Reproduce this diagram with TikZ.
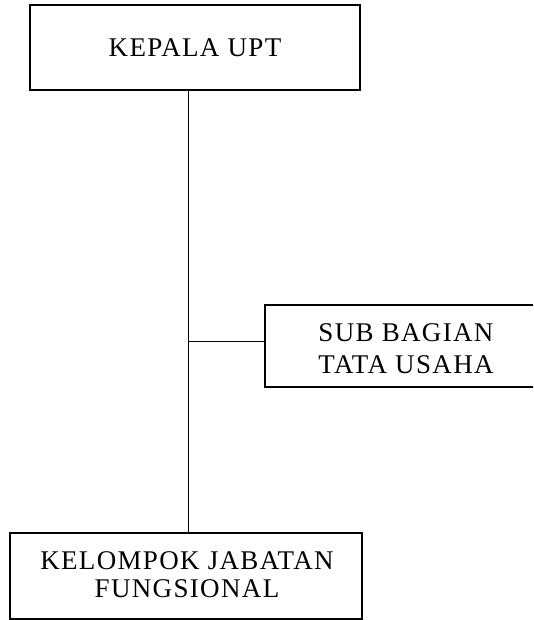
\documentclass[tikz,border=0pt]{standalone}
\usepackage{fontspec}
\setmainfont{Liberation Serif}[LetterSpace=5]
\begin{document}
\begin{tikzpicture}[x=1pt,y=1pt,
  orgbox/.style={draw=black, line width=1.4pt, align=center, inner sep=0pt},
  link/.style={draw=black, line width=1pt}]
\useasboundingbox (0,0) rectangle (533,620);
\fill[white] (0,0) rectangle (533,620);
\begin{scope}
\clip (0,0) rectangle (533,620);
\node[orgbox, minimum width=330pt, minimum height=85pt] (kepala) at (195,572.5) {};
\node[font=\fontsize{27}{32}\selectfont, inner sep=0pt] (kepalatxt) at (195,572) {KEPALA UPT};
\node[orgbox, minimum width=280pt, minimum height=82pt] (sub) at (405,274) {};
\node[font=\fontsize{27}{32}\selectfont, align=center, inner sep=0pt] (subtxt) at (406,271.5) {SUB BAGIAN\\TATA USAHA};
\node[orgbox, minimum width=352pt, minimum height=86pt] (kelompok) at (186,44) {};
\node[font=\fontsize{27}{28}\selectfont, align=center, inner sep=0pt] (keltxt) at (187,45.5) {KELOMPOK JABATAN\\FUNGSIONAL};
\coordinate (j) at (188,278);
\path[link] (kepala.south -| j) -- (kelompok.north -| j);
\path[link] (j) -- (j -| sub.west);
\end{scope}
\end{tikzpicture}
\end{document}
